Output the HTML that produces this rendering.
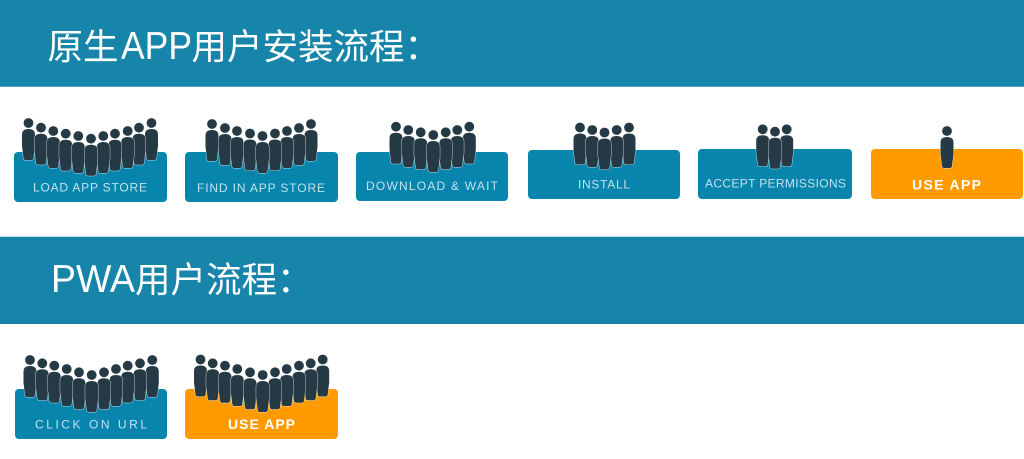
<!DOCTYPE html>
<html><head><meta charset="utf-8"><style>
html,body{margin:0;padding:0;background:#fff;}
svg{display:block;}
</style></head><body>
<svg width="1024" height="459" viewBox="0 0 1024 459" xmlns="http://www.w3.org/2000/svg">
<defs>
<g id="p">
<path d="M-6.5,16.5 Q-6.5,11 0,11 Q6.5,11 6.5,16.5 V28 L5,40 Q4.8,42 3,42 H-3 Q-4.8,42 -5,40 L-6.5,28 Z" fill="#263a45" stroke="#ffffff" stroke-opacity="0.7" stroke-width="1" paint-order="stroke"/>
<circle cx="0" cy="5" r="4.9" fill="#263a45" stroke="#ffffff" stroke-opacity="0.7" stroke-width="1" paint-order="stroke"/>
</g>
</defs>
<!-- headers -->
<rect x="0" y="0" width="1024" height="87" fill="#1784aa"/>
<rect x="0" y="86" width="1024" height="1" fill="#4aa3c3"/>
<rect x="0" y="237" width="1024" height="87" fill="#1784aa"/>
<rect x="0" y="236" width="1024" height="1" fill="#c9dfe8"/>
<g fill="#ffffff">
<text x="47.5" y="59" font-family="'Noto Sans CJK SC', sans-serif" font-size="35.5">原生</text>
<text x="121" y="59" font-family="'Liberation Sans', sans-serif" font-size="39" textLength="71" lengthAdjust="spacingAndGlyphs">APP</text>
<text x="191.5" y="59" font-family="'Noto Sans CJK SC', sans-serif" font-size="35.5">用户安装流程：</text>
<text x="51" y="292" font-family="'Liberation Sans', sans-serif" font-size="39" textLength="84" lengthAdjust="spacingAndGlyphs">PWA</text>
<text x="135" y="292" font-family="'Noto Sans CJK SC', sans-serif" font-size="35.5">用户流程：</text>
</g>
<!-- boxes -->
<rect x="14" y="152" width="153" height="50" rx="4" fill="#0785ad"/>
<rect x="185" y="152" width="153" height="50" rx="4" fill="#0785ad"/>
<rect x="356" y="152" width="152" height="49" rx="4" fill="#0785ad"/>
<rect x="528" y="150" width="152" height="49" rx="4" fill="#0785ad"/>
<rect x="698" y="149" width="154" height="50" rx="4" fill="#0785ad"/>
<rect x="871" y="149" width="152" height="50" rx="4" fill="#ff9b00"/>
<rect x="15" y="389" width="152" height="50" rx="4" fill="#0785ad"/>
<rect x="185" y="389" width="153" height="50" rx="4" fill="#ff9b00"/>
<!-- figures box1 -->
<use href="#p" x="28.5" y="118"/><use href="#p" x="151.5" y="118"/>
<use href="#p" x="41" y="122.7"/><use href="#p" x="139" y="122.7"/>
<use href="#p" x="53.3" y="126"/><use href="#p" x="127.7" y="126"/>
<use href="#p" x="65.7" y="128.7"/><use href="#p" x="115" y="128.7"/>
<use href="#p" x="78.3" y="131"/><use href="#p" x="103.3" y="131"/>
<use href="#p" x="91" y="133.7"/>
<!-- box2 -->
<use href="#p" x="212" y="119"/><use href="#p" x="311" y="119"/>
<use href="#p" x="225" y="123"/><use href="#p" x="299" y="123"/>
<use href="#p" x="237" y="126"/><use href="#p" x="287" y="126"/>
<use href="#p" x="250" y="128.5"/><use href="#p" x="275" y="128.5"/>
<use href="#p" x="262.5" y="131"/>
<!-- box3 -->
<use href="#p" x="396" y="121.7"/><use href="#p" x="469.3" y="121.7"/>
<use href="#p" x="408.3" y="125"/><use href="#p" x="457.3" y="125"/>
<use href="#p" x="420.7" y="127.3"/><use href="#p" x="445.7" y="127.3"/>
<use href="#p" x="433.3" y="130"/>
<!-- box4 -->
<use href="#p" x="580" y="122.5"/><use href="#p" x="629" y="122.5"/>
<use href="#p" x="592.3" y="125"/><use href="#p" x="616.7" y="125"/>
<use href="#p" x="604.5" y="127.5"/>
<!-- box5 -->
<use href="#p" x="762.7" y="124.3"/><use href="#p" x="786.7" y="124.3"/>
<use href="#p" x="775" y="126.7"/>
<!-- box6 -->
<use href="#p" x="947" y="126"/>
<!-- row2 box1 -->
<use href="#p" x="30" y="355"/><use href="#p" x="152.3" y="355"/>
<use href="#p" x="42.3" y="358.3"/><use href="#p" x="140" y="358.3"/>
<use href="#p" x="54.3" y="360.7"/><use href="#p" x="127.7" y="360.7"/>
<use href="#p" x="66.7" y="364"/><use href="#p" x="116" y="364"/>
<use href="#p" x="79" y="367.3"/><use href="#p" x="104" y="367.3"/>
<use href="#p" x="91.7" y="370"/>
<!-- row2 box2 -->
<use href="#p" x="200.5" y="354.5"/><use href="#p" x="322.7" y="354.5"/>
<use href="#p" x="212.7" y="358.3"/><use href="#p" x="310.7" y="358.3"/>
<use href="#p" x="225" y="360.7"/><use href="#p" x="299" y="360.7"/>
<use href="#p" x="237.3" y="364"/><use href="#p" x="286.7" y="364"/>
<use href="#p" x="250" y="367.3"/><use href="#p" x="275" y="367.3"/>
<use href="#p" x="262.7" y="370"/>
<!-- labels -->
<g font-family="'Liberation Sans', sans-serif" font-size="12" fill="#c3e2ee" text-anchor="middle">
<text x="90" y="191.5" textLength="114" lengthAdjust="spacing">LOAD APP STORE</text>
<text x="261" y="192" textLength="128" lengthAdjust="spacing">FIND IN APP STORE</text>
<text x="432" y="190" textLength="132" lengthAdjust="spacing">DOWNLOAD &amp; WAIT</text>
<text x="604" y="188.5" textLength="52" lengthAdjust="spacing">INSTALL</text>
<text x="775.5" y="187.5" textLength="141" lengthAdjust="spacing">ACCEPT PERMISSIONS</text>
<text x="91" y="428.5" textLength="112" lengthAdjust="spacing">CLICK ON URL</text>
</g>
<g font-family="'Liberation Sans', sans-serif" font-size="14" font-weight="bold" fill="#ffffff" text-anchor="middle">
<text x="946.5" y="189.3" textLength="69" lengthAdjust="spacing">USE APP</text>
<text x="261.5" y="429" textLength="67" lengthAdjust="spacing">USE APP</text>
</g>
</svg>
</body></html>
